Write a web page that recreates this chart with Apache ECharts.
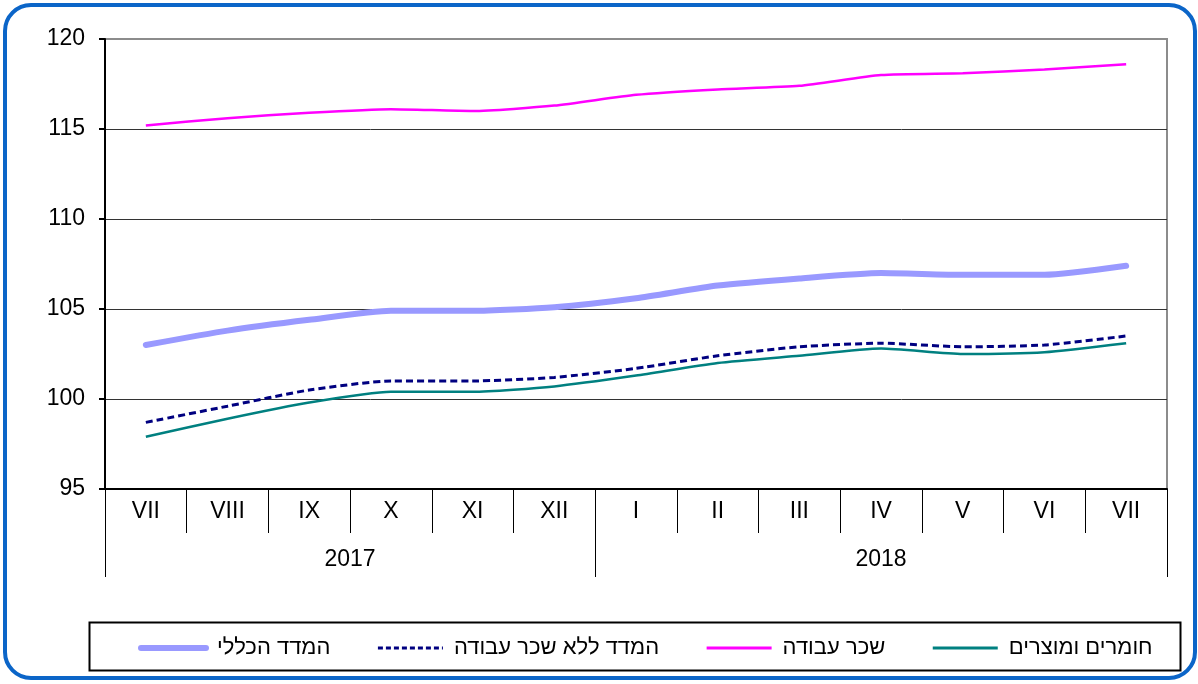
<!DOCTYPE html>
<html>
<head>
<meta charset="utf-8">
<script src="https://cdn.jsdelivr.net/npm/echarts@6/dist/echarts.min.js"></script>
<style>
  html, body { margin: 0; padding: 0; background: #fff; }
  #wrap { position: relative; width: 1198px; height: 684px; }
  #chart { position: absolute; left: 0; top: 0; width: 1198px; height: 684px; }
  #frame { position: absolute; left: 3px; top: 3px; width: 1186px; height: 669px;
           border: 4px solid #0b65c8; border-radius: 28px; pointer-events: none; }
</style>
</head>
<body>
<div id="wrap">
  <div id="chart"></div>
  <div id="frame"></div>
</div>
<script>
// ---- data ----
const months = ['VII','VIII','IX','X','XI','XII','I','II','III','IV','V','VI','VII'];
const years = ['2017', '2018'];
const yearSpans = [6, 7];           // number of months in each year group
const yTicks = [95, 100, 105, 110, 115, 120];

const nameGeneral   = 'המדד הכללי';
const nameExclWage  = 'המדד ללא שכר עבודה';
const nameWage      = 'שכר עבודה';
const nameMaterials = 'חומרים ומוצרים';

const general   = [103.0, 103.8, 104.4, 104.9, 104.9, 105.1, 105.6, 106.3, 106.7, 107.0, 106.9, 106.9, 107.4];
const exclWage  = [98.7, 99.6, 100.5, 101.0, 101.0, 101.2, 101.7, 102.4, 102.9, 103.1, 102.9, 103.0, 103.5];
const wage      = [115.2, 115.6, 115.9, 116.1, 116.0, 116.3, 116.9, 117.2, 117.4, 118.0, 118.1, 118.3, 118.6];
const materials = [97.9, 98.9, 99.8, 100.4, 100.4, 100.7, 101.3, 102.0, 102.4, 102.8, 102.5, 102.6, 103.1];

// ---- year group boundaries / centres (derived) ----
const yearBounds = [0];
yearSpans.forEach(s => yearBounds.push(yearBounds[yearBounds.length - 1] + s));
const yearCenters = yearSpans.map((s, i) => yearBounds[i] + s / 2);

const FONT = '"Liberation Sans", Arial, sans-serif';
const chart = echarts.init(document.getElementById('chart'), null, { renderer: 'canvas' });

chart.setOption({
  animation: false,
  backgroundColor: '#fff',
  grid: {
    left: 105, right: 31, top: 39, bottom: 195,
    show: true, borderColor: '#8c8c8c', borderWidth: 2, backgroundColor: 'transparent'
  },
  legend: {
    left: 133, top: 632,
    itemWidth: 65, itemHeight: 14, itemGap: 46,
    data: [
      { name: nameGeneral,   lineStyle: { width: 6, cap: 'round' } },
      { name: nameExclWage,  lineStyle: { width: 3, type: [5, 3] } },
      { name: nameWage,      lineStyle: { width: 3 } },
      { name: nameMaterials, lineStyle: { width: 3 } }
    ],
    itemStyle: { opacity: 0 },
    textStyle: { fontFamily: FONT, fontSize: 22, color: '#000', padding: [0, 0, 0, 6] }
  },
  xAxis: [
    {
      type: 'category',
      data: months,
      boundaryGap: true,
      position: 'bottom',
      axisLine: { lineStyle: { color: '#000', width: 2 } },
      axisTick: { show: true, interval: 0, length: 44, lineStyle: { color: '#000', width: 1 } },
      axisLabel: { interval: 0, margin: 11, fontFamily: FONT, fontSize: 23, color: '#000' },
      splitLine: { show: false }
    },
    {
      type: 'value',
      min: 0, max: months.length,
      position: 'bottom',
      offset: 44,
      axisLine: { show: false },
      axisTick: { show: true, length: 44, customValues: yearBounds, lineStyle: { color: '#000', width: 1 } },
      axisLabel: {
        margin: 15, fontFamily: FONT, fontSize: 23, color: '#000',
        customValues: yearCenters,
        formatter: v => { const i = yearCenters.indexOf(v); return i >= 0 ? years[i] : ''; }
      },
      splitLine: { show: false }
    }
  ],
  yAxis: {
    type: 'value',
    min: yTicks[0], max: yTicks[yTicks.length - 1], interval: 5,
    axisLine: { show: true, lineStyle: { color: '#000', width: 2 } },
    axisTick: { show: true, length: 6, lineStyle: { color: '#000', width: 2 } },
    axisLabel: { margin: 20, fontFamily: FONT, fontSize: 23, color: '#000' },
    splitLine: { show: true, lineStyle: { color: ['#333', '#333', '#333', '#333', '#333', '#8c8c8c'], width: 1 } }
  },
  series: [
    {
      name: nameGeneral, type: 'line', data: general, xAxisIndex: 0,
      symbol: 'none', smooth: 0.2,
      lineStyle: { color: '#9999ff', width: 6, cap: 'round' },
      itemStyle: { color: '#9999ff' }, z: 2
    },
    {
      name: nameExclWage, type: 'line', data: exclWage, xAxisIndex: 0,
      symbol: 'none', smooth: 0.2,
      lineStyle: { color: '#000080', width: 3, type: [7, 4] },
      itemStyle: { color: '#000080' }, z: 3
    },
    {
      name: nameWage, type: 'line', data: wage, xAxisIndex: 0,
      symbol: 'none', smooth: 0.2,
      lineStyle: { color: '#ff00ff', width: 2.5 },
      itemStyle: { color: '#ff00ff' }, z: 3
    },
    {
      name: nameMaterials, type: 'line', data: materials, xAxisIndex: 0,
      symbol: 'none', smooth: 0.2,
      lineStyle: { color: '#008080', width: 2.5 },
      itemStyle: { color: '#008080' }, z: 3
    }
  ],
  graphic: [
    {
      type: 'rect', left: 87, top: 620, silent: true,
      shape: { width: 1091, height: 48 },
      style: { fill: 'none', stroke: '#000', lineWidth: 2 }
    }
  ]
});
</script>
</body>
</html>
